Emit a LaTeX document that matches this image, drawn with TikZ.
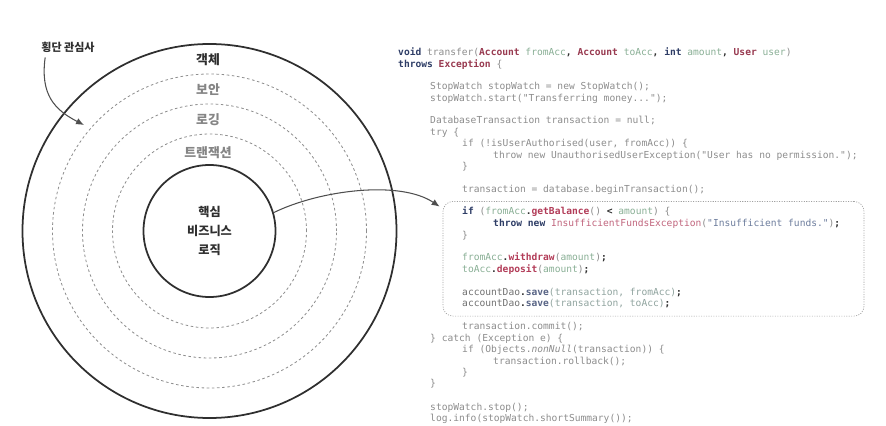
\documentclass[tikz,border=0pt]{standalone}
\usepackage{fontspec}
\newfontfamily\coreano{Noto Sans CJK KR}
\newfontfamily\fuenteCodigo{DejaVu Sans Mono}
\definecolor{aopTinta}{HTML}{2F2F2F}
\definecolor{aopGris}{HTML}{858585}
\definecolor{aopTrazo}{HTML}{8E8E8E}
\definecolor{aopCodigo}{HTML}{8C8C8C}
\definecolor{aopClave}{HTML}{2E3D66}
\definecolor{aopTipo}{HTML}{983A50}
\definecolor{aopVar}{HTML}{88AE94}
\definecolor{aopMet}{HTML}{B23C58}
\definecolor{aopExc}{HTML}{C0647C}
\definecolor{aopCad}{HTML}{6C7C9C}
\definecolor{aopDao}{HTML}{707070}
\definecolor{aopArg}{HTML}{8FA39E}
\definecolor{aopCaja}{HTML}{A0A0A0}
\usetikzlibrary{
	arrows.meta,
	positioning
}
% fragmentos de codigo coloreados
\newcommand{\pClave}[1]{{\bfseries\color{aopClave}#1}}
\newcommand{\pTipo}[1]{{\bfseries\color{aopTipo}#1}}
\newcommand{\pVar}[1]{{\color{aopVar}#1}}
\newcommand{\pMet}[1]{{\bfseries\color{aopMet}#1}}
\newcommand{\pExc}[1]{{\color{aopExc}#1}}
\newcommand{\pCad}[1]{{\color{aopCad}#1}}
\newcommand{\pGris}[1]{{\color{aopCodigo}#1}}
\newcommand{\pPunto}[1]{{\bfseries\color{aopTinta}#1}}
\newcommand{\pDao}[1]{{\color{aopDao}#1}}
\newcommand{\pGuardar}[1]{{\bfseries\color{aopClave!80}#1}}
\newcommand{\pArg}[1]{{\color{aopArg}#1}}
\tikzset{
	anillo/.style={
		circle,
		draw=aopTinta,
		line width=1.5pt,
		inner sep=0pt
	},
	capa/.style={
		circle,
		draw=aopTrazo,
		line width=0.7pt,
		dash pattern=on 2.2pt off 2.2pt,
		inner sep=0pt
	},
	rotulo/.style={
		font=\coreano\bfseries\fontsize{11}{13}\selectfont,
		text=aopGris,
		inner sep=0pt
	},
	codigo/.style={
		anchor=base west,
		inner sep=0pt,
		font=\fuenteCodigo\fontsize{8.2}{9.9}\selectfont,
		text=aopCodigo
	},
	resaltar/.style={
		draw=aopCaja,
		rounded corners=3mm,
		line width=0.6pt,
		dash pattern=on 0.9pt off 1.2pt,
		inner sep=0pt
	},
	flecha/.style={
		-{Latex[length=2.4mm,width=2mm]},
		line width=0.9pt,
		aopTinta!85
	}
}
\begin{document}
\begin{tikzpicture}[x=0.03cm, y=-0.03cm]
	\useasboundingbox (0,0) rectangle (886,426);
	% capas concentricas
	\node[anillo, minimum size=11.22cm] (capaObjeto) at (209.5,231) {};
	\node[capa, minimum size=9.42cm] (capaSeguridad) at (209.5,231) {};
	\node[capa, minimum size=7.62cm] (capaLog) at (209.5,231) {};
	\node[capa, minimum size=5.82cm] (capaTransaccion) at (209.5,231) {};
	\node[anillo, minimum size=3.96cm, align=center,
		font=\coreano\bfseries\fontsize{10.4}{16.2}\selectfont, text=aopTinta] (nucleo) at (209.5,231) {핵심\\비즈니스\\로직};
	\node[rotulo, text=aopTinta] (rotObjeto) at (208,60) {객체};
	\node[rotulo] (rotSeguridad) at (208,90) {보안};
	\node[rotulo] (rotLog) at (208,120) {로깅};
	\node[rotulo] (rotTransaccion) at (208,153) {트랜잭션};
	% etiqueta lateral
	\node[rotulo, text=aopTinta, font=\coreano\bfseries\fontsize{9.4}{11}\selectfont] (transversal) at (68,47) {횡단 관심사};
	\coordinate (puntaCapas) at (84,125);
	\draw[flecha] ([shift={(4,5)}]transversal.south west) .. controls (40,95) and (55,110) .. (puntaCapas);

	% codigo
	\node[codigo] (l01) at (398,56) {\pClave{void} \pGris{transfer(}\pTipo{Account} \pVar{fromAcc}\pPunto{,} \pTipo{Account} \pVar{toAcc}\pPunto{,} \pClave{int} \pVar{amount}\pPunto{,} \pTipo{User} \pVar{user}\pGris{)}};
	\node[codigo] (l02) at (398,67.5) {\pClave{throws} \pTipo{Exception} \pGris{\{}};
	\node[codigo] (l03) at (430,90) {StopWatch stopWatch = new StopWatch();};
	\node[codigo] (l04) at (430,101.5) {stopWatch.start("Transferring money...");};
	\node[codigo] (l05) at (430,124) {DatabaseTransaction transaction = null;};
	\node[codigo] (l06) at (430,135.5) {try \{};
	\node[codigo] (l07) at (462,147) {if (!isUserAuthorised(user, fromAcc)) \{};
	\node[codigo] (l08) at (493,158.5) {throw new UnauthorisedUserException("User has no permission.");};
	\node[codigo] (l09) at (462,170) {\}};
	\node[codigo] (l10) at (462,193) {transaction = database.beginTransaction();};
	% bloque de logica de negocio
	\node[codigo] (l11) at (462,215) {\pClave{if} \pGris{(}\pVar{fromAcc}\pPunto{.}\pMet{getBalance}\pGris{()} \pPunto{<} \pVar{amount}\pGris{) \{}};
	\node[codigo] (l12) at (493,226.5) {\pClave{throw new} \pExc{InsufficientFundsException}\pGris{(}\pCad{"Insufficient funds."}\pGris{)}\pPunto{;}};
	\node[codigo] (l13) at (462,238) {\}};
	\node[codigo] (l14) at (462,261) {\pVar{fromAcc}\pPunto{.}\pMet{withdraw}\pGris{(}\pVar{amount}\pGris{)}\pPunto{;}};
	\node[codigo] (l15) at (462,272.5) {\pVar{toAcc}\pPunto{.}\pMet{deposit}\pGris{(}\pVar{amount}\pGris{)}\pPunto{;}};
	\node[codigo] (l16) at (462,295) {\pDao{accountDao}\pPunto{.}\pGuardar{save}\pArg{(transaction, fromAcc)}\pPunto{;}};
	\node[codigo] (l17) at (462,306.5) {\pDao{accountDao}\pPunto{.}\pGuardar{save}\pArg{(transaction, toAcc)}\pPunto{;}};
	\node[codigo] (l18) at (462,329.5) {transaction.commit();};
	\node[codigo] (l19) at (430,341) {\} catch (Exception e) \{};
	\node[codigo] (l20) at (462,352.5) {if (Objects.\textit{nonNull}(transaction)) \{};
	\node[codigo] (l21) at (493,364) {transaction.rollback();};
	\node[codigo] (l22) at (462,375.5) {\}};
	\node[codigo] (l23) at (430,386.5) {\}};
	\node[codigo] (l24) at (430,410) {stopWatch.stop();};
	\node[codigo] (l25) at (430,421.5) {log.info(stopWatch.shortSummary());};
	\node[resaltar, minimum width=12.63cm, minimum height=3.44cm] (caja) at (653.5,258.8) {};
	\draw[flecha] (nucleo.16) .. controls (320,190) and (400,180) .. ([shift={(-3,5.5)}]caja.north west);
\end{tikzpicture}
\end{document}
